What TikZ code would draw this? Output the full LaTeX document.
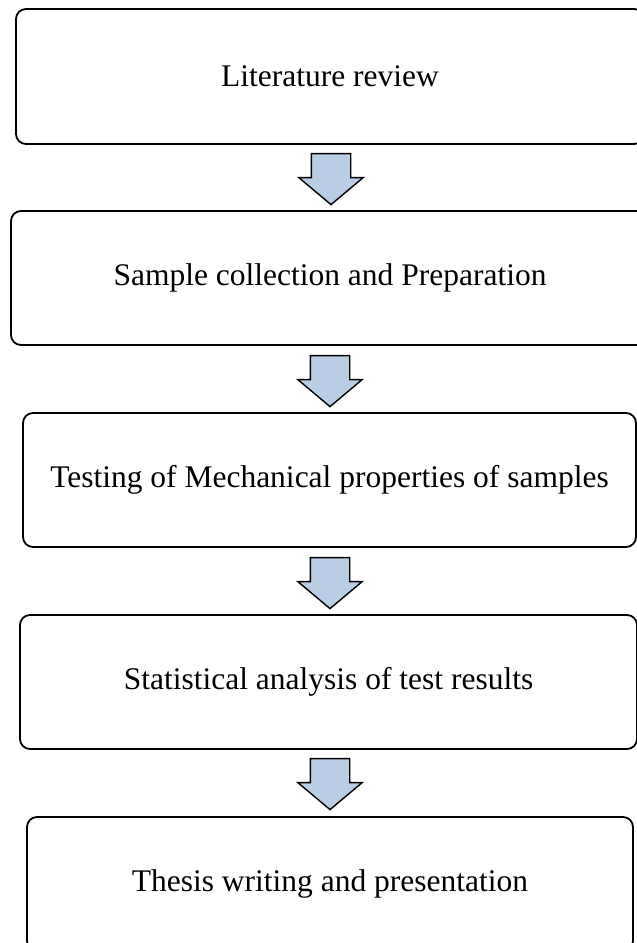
\documentclass[tikz,border=0pt]{standalone}
\usepackage{fontspec}
\setmainfont{Liberation Serif}
\usetikzlibrary{calc,shapes.arrows,positioning}
\definecolor{arrowblue}{RGB}{185,205,229}

\begin{document}
\begin{tikzpicture}[
  x=1pt,y=1pt,
  every node/.style={font=\fontsize{31.5}{36}\selectfont},
  stage/.style={draw,line width=1.8pt,rounded corners=10pt,minimum height=134pt,inner sep=0pt,align=center},
  flowarrow/.style={single arrow,draw,line width=1.4pt,fill=arrowblue,shape border rotate=270,
    inner xsep=19pt,inner ysep=0pt,single arrow head extend=12.5pt,single arrow tip angle=100,
    minimum height=51pt,anchor=tail}
]
  % Page frame (pixel grid of the reference)
  \useasboundingbox (0,0) rectangle (637,-943);
  \clip (0,0) rectangle (637,-943);

  % Stage boxes
  \node[stage,minimum width=628pt,minimum height=135pt] (lit)    at (330,-76.5) {Literature review};
  \node[stage,minimum width=638pt] (samp)   at (330,-278)   {Sample collection and Preparation};
  \node[stage,minimum width=613pt] (test)   at (329.5,-480) {Testing of Mechanical properties of samples};
  \node[stage,minimum width=617pt] (stat)   at (328.5,-682) {Statistical analysis of test results};
  \node[stage,minimum width=606pt] (thesis) at (330,-884)   {Thesis writing and presentation};

  % Block arrows between stages
  \node[flowarrow] (a1) at ($(lit.south)+(1,-8)$)  {};
  \node[flowarrow] (a2) at ($(samp.south)+(0,-9)$) {};
  \node[flowarrow] (a3) at ($(test.south)+(0.5,-9)$) {};
  \node[flowarrow] (a4) at ($(stat.south)+(1.5,-8)$) {};
\end{tikzpicture}
\end{document}
